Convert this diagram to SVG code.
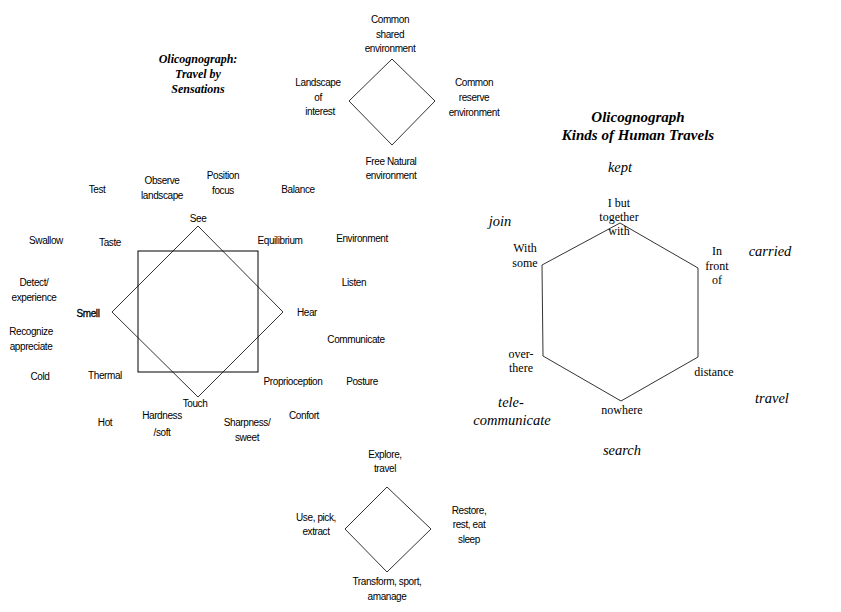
<svg xmlns="http://www.w3.org/2000/svg" width="841" height="612" viewBox="0 0 841 612">
<style>
.s{font-family:"Liberation Sans",Arial,sans-serif;font-size:10px;fill:#000;text-anchor:middle;letter-spacing:-0.4px}
.t{font-family:"Liberation Serif","Times New Roman",serif;font-size:12px;font-weight:bold;font-style:italic;text-anchor:middle}
.t2{font-family:"Liberation Serif","Times New Roman",serif;font-size:15px;font-weight:bold;font-style:italic;text-anchor:middle}
.r{font-family:"Liberation Serif","Times New Roman",serif;font-size:12px;text-anchor:middle}
.i{font-family:"Liberation Serif","Times New Roman",serif;font-size:14.5px;font-style:italic;text-anchor:middle}
.ln{fill:none;stroke:#333;stroke-width:1}
</style>
<rect width="841" height="612" fill="#fff"/>
<g id="connectors">
<polygon class="ln" points="392,59 435,101 392,145 349,101"/>
<polygon class="ln" points="198,226 283,312 198,397 112,312"/>
<rect x="138" y="251" width="120" height="121" fill="none" stroke="#000"/>
<polygon class="ln" points="620,223 698,268 698,357 621,401 543,356 542,265"/>
<polygon class="ln" points="387,487 431,529 387,572 345,529"/>
</g>
<g id="title1"><text class="t" x="198" y="63">Olicognograph:</text><text class="t" x="198" y="78">Travel by</text><text class="t" x="198" y="93">Sensations</text></g>
<g id="env-top"><text class="s" x="390" y="23">Common</text><text class="s" x="390" y="38">shared</text><text class="s" x="390" y="52">environment</text></g>
<g id="env-left"><text class="s" x="318" y="86">Landscape</text><text class="s" x="318" y="101">of</text><text class="s" x="320" y="115">interest</text></g>
<g id="env-right"><text class="s" x="474" y="86">Common</text><text class="s" x="474" y="101">reserve</text><text class="s" x="474" y="116">environment</text></g>
<g id="env-bottom"><text class="s" x="391" y="165">Free Natural</text><text class="s" x="391" y="179">environment</text></g>
<g id="test"><text class="s" x="97" y="193">Test</text></g>
<g id="observe"><text class="s" x="162" y="184">Observe</text><text class="s" x="162" y="199">landscape</text></g>
<g id="position"><text class="s" x="223" y="179">Position</text><text class="s" x="223" y="194">focus</text></g>
<g id="balance"><text class="s" x="298" y="193">Balance</text></g>
<g id="see"><text class="s" x="198" y="222">See</text></g>
<g id="swallow"><text class="s" x="46" y="244">Swallow</text></g>
<g id="taste"><text class="s" x="110" y="246">Taste</text></g>
<g id="equilibrium"><text class="s" x="280" y="244">Equilibrium</text></g>
<g id="environment"><text class="s" x="362" y="242">Environment</text></g>
<g id="listen"><text class="s" x="354" y="286">Listen</text></g>
<g id="detect"><text class="s" x="34" y="286">Detect/</text><text class="s" x="34" y="301">experience</text></g>
<g id="smell"><text class="s" x="88" y="317" style="stroke:#000;stroke-width:0.3">Smell</text></g>
<g id="hear"><text class="s" x="307" y="316">Hear</text></g>
<g id="recognize"><text class="s" x="31" y="335">Recognize</text><text class="s" x="31" y="350">appreciate</text></g>
<g id="communicate"><text class="s" x="356" y="343">Communicate</text></g>
<g id="cold"><text class="s" x="40" y="380">Cold</text></g>
<g id="thermal"><text class="s" x="105" y="379">Thermal</text></g>
<g id="proprioception"><text class="s" x="293" y="385">Proprioception</text></g>
<g id="posture"><text class="s" x="362" y="385">Posture</text></g>
<g id="touch"><text class="s" x="195" y="407">Touch</text></g>
<g id="hot"><text class="s" x="105" y="426">Hot</text></g>
<g id="hardness"><text class="s" x="162" y="419">Hardness</text><text class="s" x="162" y="436">/soft</text></g>
<g id="sharpness"><text class="s" x="247" y="426">Sharpness/</text><text class="s" x="247" y="441">sweet</text></g>
<g id="confort"><text class="s" x="304" y="419">Confort</text></g>
<g id="title2"><text class="t2" x="638" y="122">Olicognograph</text><text class="t2" x="638" y="140">Kinds of Human Travels</text></g>
<g id="kept"><text class="i" x="620" y="172">kept</text></g>
<g id="ibut"><text class="r" x="619" y="207">I but</text><text class="r" x="619" y="221">together</text><text class="r" x="619" y="235">with</text></g>
<g id="join"><text class="i" x="500" y="226">join</text></g>
<g id="withsome"><text class="r" x="525" y="252">With</text><text class="r" x="525" y="267">some</text></g>
<g id="infront"><text class="r" x="717" y="255">In</text><text class="r" x="717" y="270">front</text><text class="r" x="717" y="284">of</text></g>
<g id="carried"><text class="i" x="770" y="256">carried</text></g>
<g id="overthere"><text class="r" x="521" y="358">over-</text><text class="r" x="521" y="372">there</text></g>
<g id="distance"><text class="r" x="714" y="376">distance</text></g>
<g id="travel"><text class="i" x="772" y="403">travel</text></g>
<g id="tele"><text class="i" x="511" y="407">tele-</text><text class="i" x="512" y="425">communicate</text></g>
<g id="nowhere"><text class="r" x="622" y="414">nowhere</text></g>
<g id="search"><text class="i" x="622" y="455">search</text></g>
<g id="explore"><text class="s" x="385" y="458">Explore,</text><text class="s" x="385" y="472">travel</text></g>
<g id="use"><text class="s" x="316" y="521">Use, pick,</text><text class="s" x="316" y="535">extract</text></g>
<g id="restore"><text class="s" x="469" y="514">Restore,</text><text class="s" x="469" y="528">rest, eat</text><text class="s" x="469" y="543">sleep</text></g>
<g id="transform"><text class="s" x="387" y="585">Transform, sport,</text><text class="s" x="387" y="600">amanage</text></g>
</svg>
